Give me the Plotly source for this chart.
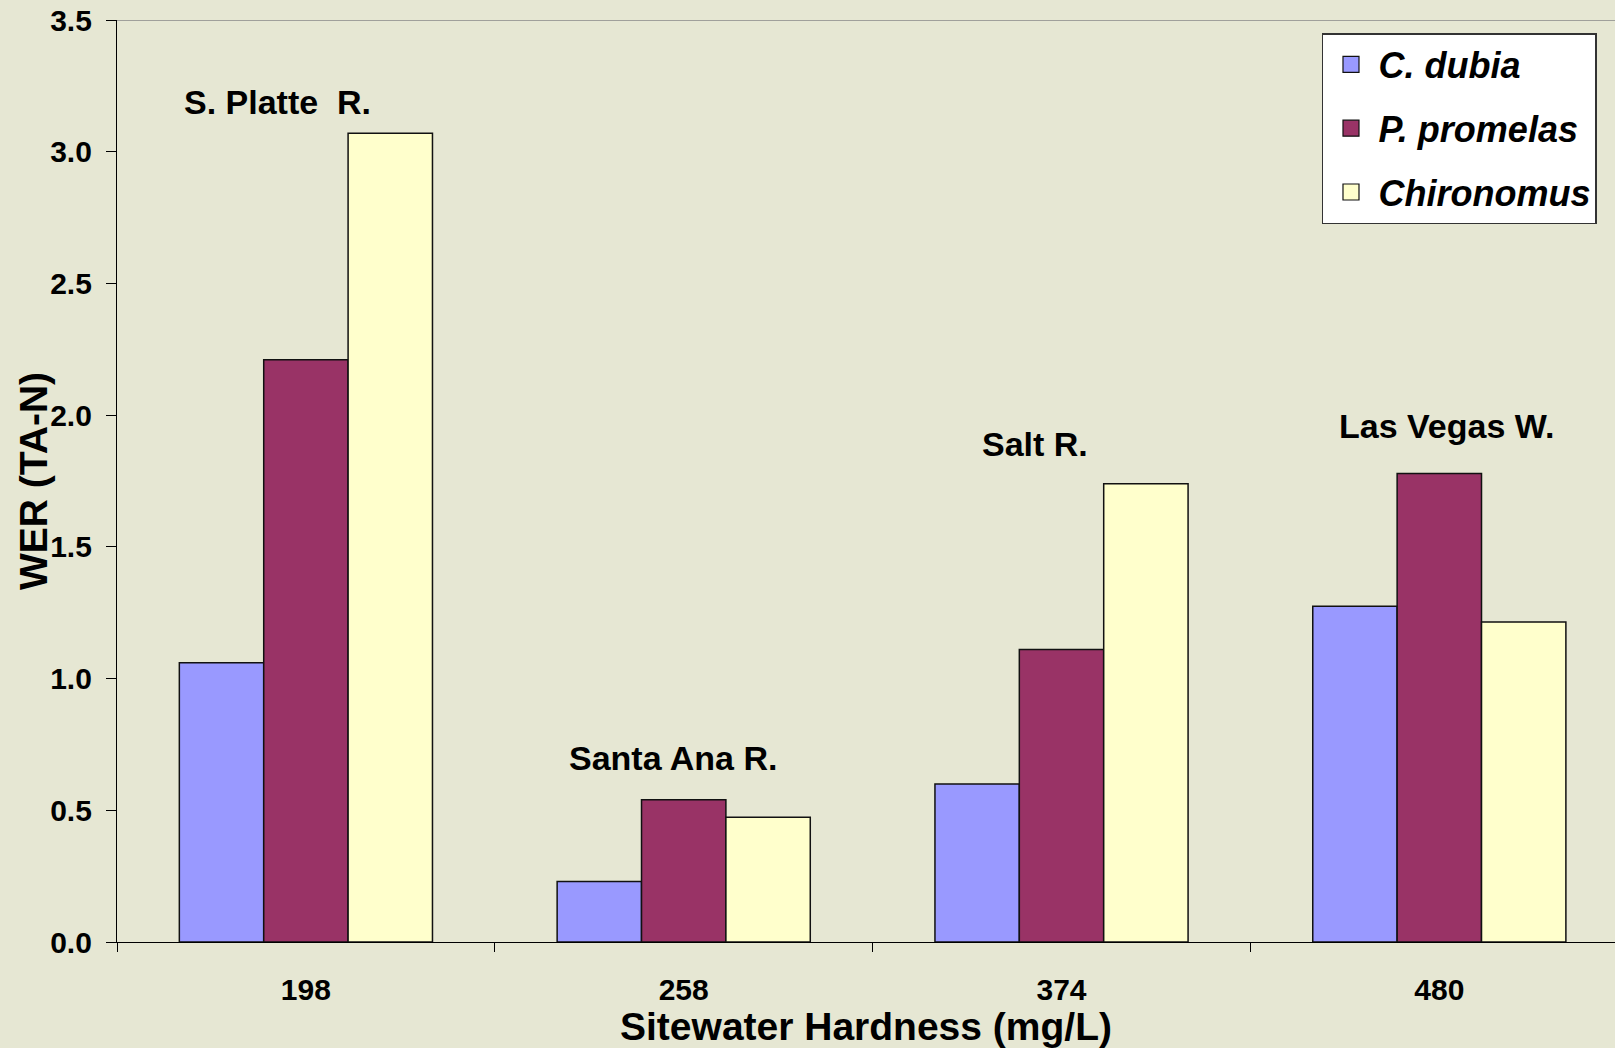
import plotly.graph_objects as go

categories = ["198", "258", "374", "480"]
series_names = ["C. dubia", "P. promelas", "Chironomus"]
c_dubia = [1.06, 0.23, 0.60, 1.275]
p_promelas = [2.21, 0.54, 1.11, 1.778]
chironomus = [3.07, 0.474, 1.74, 1.215]
site_labels = ["S. Platte  R.", "Santa Ana R.", "Salt R.", "Las Vegas W."]
y_ticks = [0.0, 0.5, 1.0, 1.5, 2.0, 2.5, 3.0, 3.5]

colors = ["#9999FF", "#993366", "#FFFFCC"]
BG = "#E6E7D3"
FONT = "Arial, Liberation Sans, sans-serif"

fig = go.Figure()
for name, vals, col in zip(series_names, [c_dubia, p_promelas, chironomus], colors):
    fig.add_trace(go.Bar(
        x=categories, y=vals, name=name, showlegend=False,
        marker=dict(color=col, line=dict(color="#111111", width=1.5)),
    ))
# legend proxies with larger square swatches
for i, (name, col) in enumerate(zip(series_names, colors)):
    fig.add_trace(go.Scatter(
        x=[None], y=[None], mode="markers", name=name, legendgroup=f"g{i}",
        marker=dict(symbol="square", size=22, color=col, line=dict(color="#111111", width=1.2)),
    ))

label_y = [3.19, 0.70, 1.89, 1.96]
label_xshift = [-28, -11, -27, 7]
for idx, (lab, ly, xs) in enumerate(zip(site_labels, label_y, label_xshift)):
    fig.add_annotation(x=idx, y=ly, text=lab, showarrow=False, xshift=xs,
                       xref="x", yref="y",
                       xanchor="center", yanchor="middle",
                       font=dict(family=FONT, size=34, color="black", weight="bold"))

# y axis title
fig.add_annotation(x=0, y=0.5, xref="paper", yref="paper", xshift=-84,
                   text="WER (TA-N)", textangle=-90, showarrow=False,
                   xanchor="center", yanchor="middle",
                   font=dict(family=FONT, size=39, color="black", weight="bold"))

fig.update_layout(
    width=1615, height=1048,
    margin=dict(l=117, r=0, t=20, b=106),
    paper_bgcolor=BG, plot_bgcolor=BG,
    barmode="group", bargap=0.33, bargroupgap=0,
    font=dict(family=FONT, color="black"),
    showlegend=True,
    legend=dict(
        x=0.8044, y=0.9859, xanchor="left", yanchor="top",
        bgcolor="white", bordercolor="#333333", borderwidth=1.5,
        font=dict(family=FONT, size=36, color="black", weight="bold", style="italic"),
        traceorder="grouped", tracegroupgap=14,
        itemsizing="trace", itemwidth=45,
    ),
    xaxis=dict(
        type="category", range=[-0.5, 3.465],
        showline=True, linecolor="black", linewidth=1.2,
        ticks="outside", tickson="boundaries", ticklen=9, tickcolor="black", tickwidth=1,
        tickfont=dict(family=FONT, size=30, color="black", weight="bold"),
        ticklabelstandoff=21,
        title=dict(text="Sitewater Hardness (mg/L)", standoff=5,
                   font=dict(family=FONT, size=39, color="black", weight="bold")),
        showgrid=False, zeroline=False,
    ),
    yaxis=dict(
        range=[0, 3.5], tickvals=y_ticks, tickformat=".1f",
        showline=True, linecolor="black", linewidth=1.2, mirror=False,
        ticks="outside", ticklen=10, tickcolor="black", tickwidth=1,
        tickfont=dict(family=FONT, size=30, color="black", weight="bold"),
        ticklabelstandoff=8,
        showgrid=False, zeroline=False,
    ),
)
# grey top border of the plot area
fig.add_shape(type="line", xref="paper", yref="y", x0=0, x1=1, y0=3.5, y1=3.5,
              line=dict(color="#888888", width=1.5))

fig.write_html("out.html")
